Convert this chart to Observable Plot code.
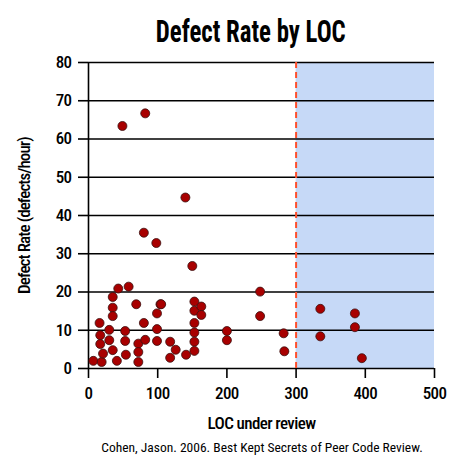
<!DOCTYPE html>
<html>
<head>
<meta charset="utf-8">
<script src="https://cdn.jsdelivr.net/npm/d3@7"></script>
<script src="https://cdn.jsdelivr.net/npm/@observablehq/plot@0.6"></script>
<style>
  body { margin: 0; background: #fff; font-family: "Roboto Condensed", Roboto, sans-serif; }
  #title { height: 50px; line-height: 64px; font-size: 31px; font-weight: bold; text-align: center; padding-left: 28px; }
  #title span { display: inline-block; transform: scaleX(0.8); }
  #caption { font-size: 13.5px; text-align: center; padding-left: 50px; margin-top: 4px; }
  svg text { font-weight: 500; letter-spacing: -0.6px; }
</style>
</head>
<body>
<div id="title"><span>Defect Rate by LOC</span></div>
<div id="graph"></div>
<div id="caption"><span>Cohen, Jason. 2006. Best Kept Secrets of Peer Code Review.</span></div>
<script>
// lines of code under review, one per review
const loc = [7, 19, 16, 17, 17, 21, 30, 30, 35, 35, 35, 35, 41, 43, 49,
  53, 53, 54, 58, 69, 72, 72, 72, 80, 80, 82, 82, 98, 99, 99, 99, 104, 105,
  118, 118, 126, 141, 140, 150,
  153, 153, 153, 153, 153, 153, 163, 163,
  200, 200, 248, 248, 282, 283, 335, 335, 385, 385, 395];
// defects found per hour
const rate = [2.0, 1.7, 11.9, 8.7, 6.4, 3.9, 10.1, 7.4, 18.7, 15.9, 13.7, 4.8, 2.0, 20.9, 63.4,
  9.8, 7.2, 3.6, 21.4, 16.8, 6.5, 4.3, 1.7, 35.5, 11.9, 66.7, 7.5, 32.8, 14.4, 10.3, 7.2, 16.8, 16.8,
  7.0, 2.8, 4.9, 3.6, 44.7, 26.8,
  17.5, 15.1, 11.9, 9.4, 7.0, 4.6, 16.2, 14.0,
  9.8, 7.4, 20.1, 13.7, 9.2, 4.5, 15.6, 8.4, 14.4, 10.8, 2.7];

const reviews = loc.map((d, i) => ({loc: d, rate: rate[i]}));
const xTicks = [0, 100, 200, 300, 400, 500];
const yTicks = [0, 10, 20, 30, 40, 50, 60, 70, 80];
const limit = 300;

const chart = Plot.plot({
  width: 474,
  height: 385,
  marginTop: 12,
  marginLeft: 88,
  marginRight: 40,
  marginBottom: 67,
  style: {fontFamily: "Roboto Condensed, Roboto, sans-serif", fontSize: "17px", color: "#000"},
  x: {domain: [0, 500]},
  y: {domain: [0, 80]},
  marks: [
    Plot.rectX([limit], {x1: limit, x2: 500, y1: 0, y2: 80, fill: "#c6d9f7"}),
    Plot.ruleY(yTicks, {stroke: "#000", strokeWidth: 1.6}),
    Plot.ruleX([0], {stroke: "#000", strokeWidth: 1.6}),
    Plot.ruleX([limit], {stroke: "#ff4f2b", strokeWidth: 2, strokeDasharray: "6,4"}),
    Plot.axisX({ticks: xTicks, tickSize: 10, tickPadding: 8, strokeWidth: 1.6, fontSize: 17, label: "LOC under review", labelAnchor: "center", labelArrow: "none", labelOffset: 60}),
    Plot.axisY({ticks: yTicks, tickSize: 10, tickPadding: 7, strokeWidth: 1.6, fontSize: 17, label: "Defect Rate (defects/hour)", labelAnchor: "center", labelArrow: "none", labelOffset: 71}),
    Plot.dot(reviews, {x: "loc", y: "rate", r: 4.5, fill: "#a80000", stroke: "#3a1010", strokeWidth: 0.8})
  ]
});

d3.select("#graph").append(() => chart);
d3.select(chart).selectAll("[aria-label='y-axis label'] text").style("letter-spacing", "-0.9px");
</script>
</body>
</html>
